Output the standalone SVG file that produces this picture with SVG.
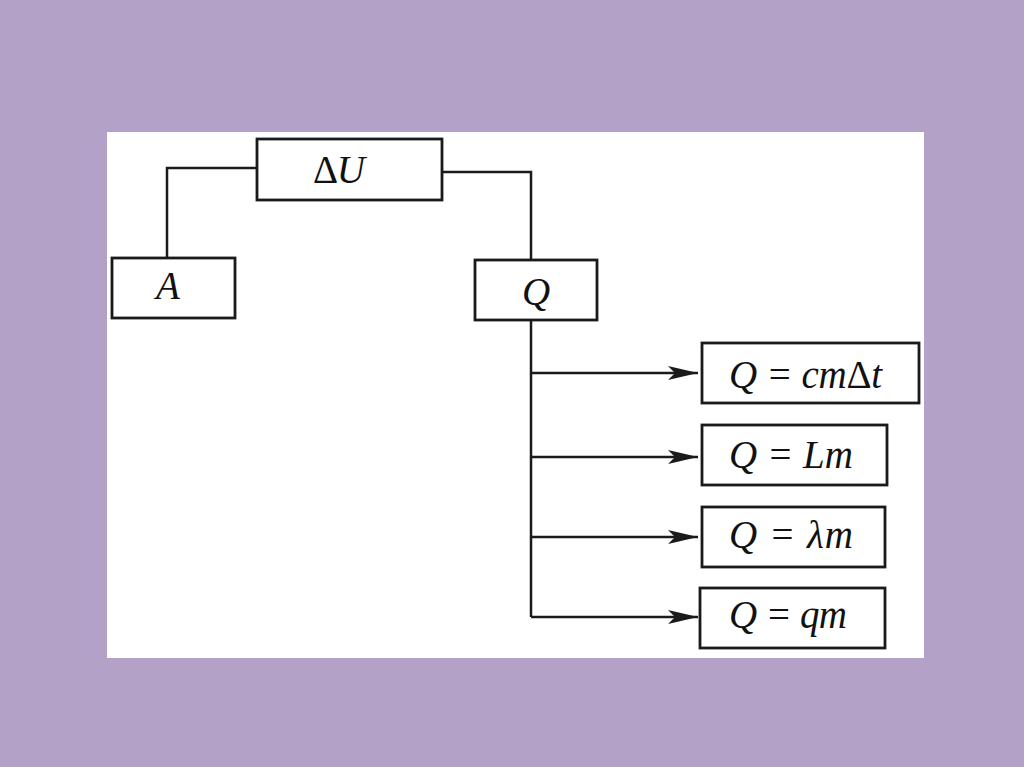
<svg xmlns="http://www.w3.org/2000/svg" width="1024" height="767" viewBox="0 0 1024 767">
<defs>
<marker id="arr" markerWidth="30" markerHeight="14" refX="30" refY="7" orient="auto" markerUnits="userSpaceOnUse">
<path d="M0,0 L30,7 L0,14 L7,7 Z" fill="#1a1a1a"/>
</marker>
<style>
.box{fill:#fff;stroke:#1a1a1a;stroke-width:2.8}
.ln{fill:none;stroke:#1a1a1a;stroke-width:2.5}
.t{font-family:"Liberation Serif","Times New Roman",serif;font-style:italic;font-size:39px;fill:#111}
.up{font-style:normal}
</style>
</defs>
<rect x="0" y="0" width="1024" height="767" fill="#b3a1c8"/>
<rect x="107" y="132" width="817" height="526" fill="#ffffff"/>
<g id="connectors">
<polyline class="ln" points="257,168 167,168 167,258"/>
<polyline class="ln" points="442,172 531,172 531,260"/>
<polyline class="ln" points="531,320 531,617"/>
<line class="ln" x1="531" y1="373" x2="698" y2="373" marker-end="url(#arr)"/>
<line class="ln" x1="531" y1="457" x2="698" y2="457" marker-end="url(#arr)"/>
<line class="ln" x1="531" y1="537" x2="698" y2="537" marker-end="url(#arr)"/>
<line class="ln" x1="531" y1="617" x2="698" y2="617" marker-end="url(#arr)"/>
</g>
<g id="node-dU">
<rect class="box" x="257" y="139" width="185" height="61"/>
<text class="t" x="313" y="183" textLength="52"><tspan class="up">Δ</tspan>U</text>
</g>
<g id="node-A">
<rect class="box" x="112" y="258" width="123" height="60"/>
<text class="t" x="156" y="299">A</text>
</g>
<g id="node-Q">
<rect class="box" x="475" y="260" width="122" height="60"/>
<text class="t" x="522" y="305">Q</text>
</g>
<g id="node-f1">
<rect class="box" x="702" y="343" width="217" height="60"/>
<text class="t" x="729" y="388" textLength="153">Q = cm<tspan class="up">Δ</tspan>t</text>
</g>
<g id="node-f2">
<rect class="box" x="702" y="425" width="185" height="60"/>
<text class="t" x="729" y="468" textLength="124">Q = Lm</text>
</g>
<g id="node-f3">
<rect class="box" x="702" y="507" width="183" height="60"/>
<text class="t" x="729" y="548" textLength="124">Q = λm</text>
</g>
<g id="node-f4">
<rect class="box" x="700" y="588" width="185" height="60"/>
<text class="t" x="729" y="628" textLength="118">Q = qm</text>
</g>
</svg>
